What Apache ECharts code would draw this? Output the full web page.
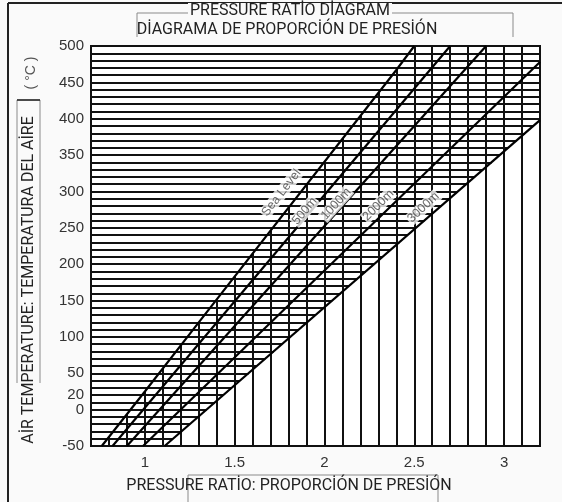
<!DOCTYPE html>
<html><head><meta charset="utf-8">
<script src="https://cdn.jsdelivr.net/npm/echarts@6/dist/echarts.min.js"></script>
<style>html,body{margin:0;padding:0;background:#fafafa;} #c{width:562px;height:502px;}</style>
</head><body><div id="c"></div>
<script>
// ---- data ----
const pressureLabels = [1, 1.5, 2, 2.5, 3];
const temperatureLabels = [-50, 0, 20, 50, 100, 150, 200, 250, 300, 350, 400, 450, 500];
const curveNames = ['Sea Level', '500m', '1000m', '2000m', '3000m'];
const seaLevel = [[0.76, -50], [1.0, 25], [1.3, 120], [2.4, 467], [2.5, 500]];
const alt500 = [[0.82, -50], [2.7, 500]];
const alt1000 = [[0.9, -50], [2.9, 500]];
const alt2000 = [[0.99, -50], [3.2, 478]];
const alt3000 = [[1.11, -50], [3.2, 398]];
const curveLabelPos = [[1.76, 298], [1.89, 273], [2.065, 283], [2.30, 281], [2.55, 278]];
const curves = [seaLevel, alt500, alt1000, alt2000, alt3000];

const X_MIN = 0.7, X_MAX = 3.2, Y_MIN = -50, Y_MAX = 500;
const X_STEP = 0.1, Y_STEP = 10;

function interp(pts, v, from, to) {
  for (let i = 0; i < pts.length - 1; i++) {
    const a = pts[i], b = pts[i + 1];
    if (v <= b[from] || i === pts.length - 2) {
      const t = (v - a[from]) / (b[from] - a[from]);
      return a[to] + t * (b[to] - a[to]);
    }
  }
}
const tempAt = (c, p) => interp(c, p, 0, 1);
const pressAt = (c, t) => interp(c, t, 1, 0);

// vertical grid: from bottom up to the Sea Level curve
const vSegs = [];
for (let k = 1; X_MIN + k * X_STEP < X_MAX - 1e-6; k++) {
  const p = +(X_MIN + k * X_STEP).toFixed(2);
  const top = Math.min(Y_MAX, tempAt(seaLevel, p));
  if (top > Y_MIN) vSegs.push({coords: [[p, Y_MIN], [p, top]]});
}
// horizontal grid: from left edge to the 3000m curve
const hSegs = [];
for (let k = 1; Y_MIN + k * Y_STEP < Y_MAX; k++) {
  const t = Y_MIN + k * Y_STEP;
  const right = Math.min(X_MAX, pressAt(alt3000, t));
  hSegs.push({coords: [[X_MIN, t], [right, t]]});
}

const labelAngles = [52, 50, 48, 45, 43];
const near = (list, v) => list.find(l => Math.abs(l - v) < 1e-6);

const chart = echarts.init(document.getElementById('c'), null, {renderer: 'canvas'});
const gray = '#8a8a8a';
const titleFont = 'Roboto, "Noto Sans", sans-serif';
chart.setOption({
  backgroundColor: '#fafafa',
  animation: false,
  grid: {left: 91, right: 22, top: 46, bottom: 56, show: true, backgroundColor: '#fff',
         borderColor: '#111', borderWidth: 2, containLabel: false, outerBoundsMode: 'none'},
  xAxis: {type: 'value', min: X_MIN, max: X_MAX, interval: X_STEP,
    axisLine: {show: false}, axisTick: {show: false}, splitLine: {show: false},
    axisLabel: {margin: 9, fontSize: 15, color: '#333', fontFamily: '"Liberation Sans", Arial, sans-serif',
      showMinLabel: true, showMaxLabel: true,
      formatter: v => { const l = near(pressureLabels, v); return l === undefined ? '' : String(l); }}},
  yAxis: {type: 'value', min: Y_MIN, max: Y_MAX, interval: Y_STEP,
    axisLine: {show: false}, axisTick: {show: false}, splitLine: {show: false},
    axisLabel: {margin: 7, fontSize: 15, color: '#333', fontFamily: '"Liberation Sans", Arial, sans-serif',
      showMinLabel: true, showMaxLabel: true,
      formatter: v => { const l = near(temperatureLabels, v); return l === undefined ? '' : String(l); }}},
  series: [
    {type: 'lines', coordinateSystem: 'cartesian2d', silent: true, z: 2, data: hSegs,
     lineStyle: {color: '#111', width: 2, opacity: 1}},
    {type: 'lines', coordinateSystem: 'cartesian2d', silent: true, z: 2, data: vSegs,
     lineStyle: {color: '#111', width: 2, opacity: 1}},
    ...curves.map((c, i) => ({type: 'line', name: curveNames[i], data: c, showSymbol: false, silent: true,
      z: 3, lineStyle: {color: '#000', width: 2.2}})),
    {type: 'scatter', symbolSize: 0, silent: true, z: 5,
     data: curveLabelPos.map((p, i) => ({value: p,
       label: {show: true, position: 'inside', rotate: labelAngles[i], formatter: curveNames[i]}})),
     label: {fontSize: 12.5, color: '#444', backgroundColor: '#fff', padding: [0, 1],
             fontFamily: '"Liberation Sans", Arial, sans-serif'}}
  ],
  graphic: [
    // outer frame
    {type: 'line', shape: {x1: 8, y1: 3, x2: 562, y2: 3}, style: {stroke: '#222', lineWidth: 2}},
    {type: 'line', shape: {x1: 8, y1: 3, x2: 8, y2: 502}, style: {stroke: '#222', lineWidth: 2}},
    // title bracket
    {type: 'polyline', shape: {points: [[137, 37], [137, 13], [513, 13], [513, 37]]}, style: {stroke: gray, lineWidth: 1, fill: null}},
    {type: 'text', x: 290, y: 11, style: {text: 'PRESSURE RATİO DİAGRAM', font: '16px ' + titleFont, fill: '#222',
      align: 'center', verticalAlign: 'middle', backgroundColor: '#fafafa', padding: [0, 2]}},
    {type: 'text', x: 287, y: 30, style: {text: 'DİAGRAMA DE PROPORCİÓN DE PRESİÓN', font: '16px ' + titleFont, fill: '#222',
      align: 'center', verticalAlign: 'middle'}},
    // y axis title bracket
    {type: 'polyline', shape: {points: [[17, 383], [17, 100], [40, 100], [40, 383]]}, style: {stroke: gray, lineWidth: 1, fill: null}},
    {type: 'line', shape: {x1: 17, y1: 100, x2: 40, y2: 100}, style: {stroke: '#222', lineWidth: 1.5}},
    {type: 'text', x: 29, y: 280, rotation: Math.PI / 2, style: {text: 'AİR TEMPERATURE: TEMPERATURA DEL AİRE',
      font: '16px ' + titleFont, fill: '#222', align: 'center', verticalAlign: 'middle'}},
    {type: 'text', x: 31, y: 73, rotation: Math.PI / 2, style: {text: '( °C )',
      font: '14px "Liberation Sans", Arial, sans-serif', fill: '#555', align: 'center', verticalAlign: 'middle'}},
    // x axis title bracket
    {type: 'polyline', shape: {points: [[188, 502], [188, 475], [438, 475], [438, 502]]}, style: {stroke: gray, lineWidth: 1, fill: null}},
    {type: 'text', x: 289, y: 486, style: {text: 'PRESSURE RATİO: PROPORCİÓN DE PRESİÓN', font: '16px ' + titleFont, fill: '#222',
      align: 'center', verticalAlign: 'middle'}}
  ]
});
</script></body></html>
